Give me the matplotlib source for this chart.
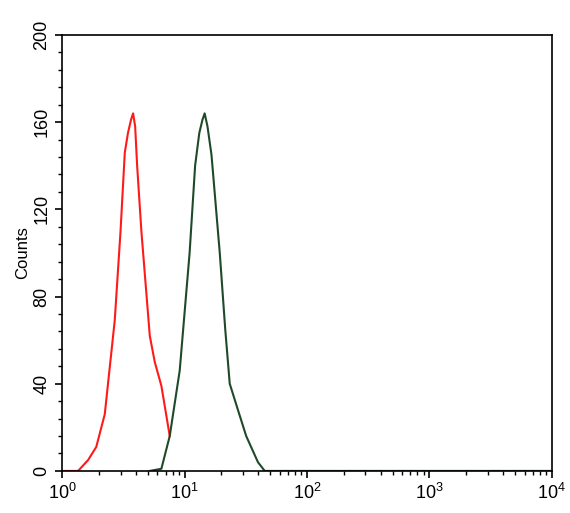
import matplotlib
matplotlib.use('Agg')
import matplotlib.pyplot as plt
from matplotlib.ticker import MultipleLocator, LogLocator, NullFormatter

plt.rcParams['font.family'] = ['Liberation Sans', 'DejaVu Sans']

red_x = [1.0, 1.35, 1.63, 1.9, 2.23, 2.69, 3.0, 3.25, 3.45, 3.65, 3.8, 3.95, 4.1, 4.44, 5.2, 5.71, 6.47, 7.57]
red_y = [0, 0, 5, 11, 26, 69, 110, 146, 155, 161, 164, 158, 140, 110, 62, 50, 39, 16]
green_x = [5.2, 6.47, 7.57, 9.13, 11.0, 12.2, 13.2, 14.0, 14.6, 15.4, 16.6, 19.4, 21.5, 23.4, 27.3, 31.9, 39.8, 45.2, 100, 1000, 10000]
green_y = [0, 1, 16, 46, 100, 140, 155, 161, 164, 158, 145, 100, 65, 40, 28, 16, 4, 0, 0, 0, 0]

fig = plt.figure(figsize=(5.7, 5.13), dpi=100)
ax = fig.add_axes([0.109, 0.082, 0.859, 0.85])
ax.plot(red_x, red_y, color='#ff1a1a', lw=1.5)
ax.plot(green_x, green_y, color='#1f4a2a', lw=1.5)
ax.set_xscale('log')
ax.set_xlim(1, 10000)
ax.set_ylim(0, 200)
ax.yaxis.set_major_locator(MultipleLocator(40))
ax.yaxis.set_minor_locator(MultipleLocator(8))
ax.xaxis.set_major_locator(LogLocator(base=10, numticks=10))
ax.xaxis.set_minor_locator(LogLocator(base=10, subs=range(2, 10), numticks=10))
ax.xaxis.set_minor_formatter(NullFormatter())
ax.tick_params(which='major', direction='out', length=5, width=1.2, labelsize=13)
ax.tick_params(which='minor', direction='out', length=3, width=1)
for lab in ax.get_yticklabels():
    lab.set_rotation(90)
    lab.set_va('center')
for s in ax.spines.values():
    s.set_linewidth(1.2)
ax.set_ylabel('Counts', fontsize=12, labelpad=2)
fig.savefig('out.png', dpi=100)
